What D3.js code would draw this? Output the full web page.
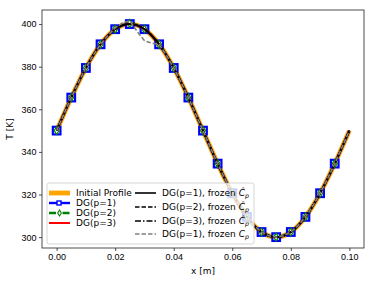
<!DOCTYPE html>
<html>
<head>
<meta charset="utf-8">
<script src="https://cdn.jsdelivr.net/npm/d3@7.9.0/dist/d3.min.js"></script>
<style>
  body { margin: 0; background: #fff; }
  svg { display: block; font-family: "DejaVu Sans", sans-serif; }
  .tick text { font-size: 9px; fill: #000; }
</style>
</head>
<body>
<svg id="chart" width="374" height="283"></svg>
<script>
// fine grid for the smooth profiles
const xFine = [0, 0.0025, 0.005, 0.0075, 0.01, 0.0125, 0.015, 0.0175, 0.02, 0.0225,
  0.025, 0.0275, 0.03, 0.0325, 0.035, 0.0375, 0.04, 0.0425, 0.045, 0.0475,
  0.05, 0.0525, 0.055, 0.0575, 0.06, 0.0625, 0.065, 0.0675, 0.07, 0.0725,
  0.075, 0.0775, 0.08, 0.0825, 0.085, 0.0875, 0.09, 0.0925, 0.095, 0.0975, 0.1];
const tInitial = [350, 357.8, 365.5, 372.7, 379.4, 385.4, 390.5, 394.6, 397.6, 399.4,
  400, 399.4, 397.6, 394.6, 390.5, 385.4, 379.4, 372.7, 365.5, 357.8,
  350, 342.2, 334.5, 327.3, 320.6, 314.6, 309.5, 305.4, 302.4, 300.6,
  300, 300.6, 302.4, 305.4, 309.5, 314.6, 320.6, 327.3, 334.5, 342.2, 350];
const tDG3 = tInitial.slice();
const tFrozenP1 = tInitial.slice();
const tFrozenP2 = tInitial.slice();
const tFrozenP3 = tInitial.slice();
// frozen C_p (p=1) run, kinked near the peak
const tFrozenCp = [350, 357.8, 365.5, 372.7, 379.4, 385.4, 390.5, 394.6, 398.2, 400.6,
  401.6, 396.5, 392.2, 391.0, 390.5, 385.4, 379.4, 372.7, 365.5, 357.8,
  350, 342.2, 334.5, 327.3, 320.6, 314.6, 309.5, 305.4, 302.4, 300.6,
  300, 300.6, 302.4, 305.4, 309.5, 314.6, 320.6, 327.3, 334.5, 342.2, 350];

// node values with markers
const xNodes = [0, 0.005, 0.01, 0.015, 0.02, 0.025, 0.03, 0.035, 0.04, 0.045,
  0.05, 0.055, 0.06, 0.065, 0.07, 0.075, 0.08, 0.085, 0.09, 0.095, 0.1];
const tDG1 = [350, 365.5, 379.4, 390.5, 397.6, 400, 397.6, 390.5, 379.4, 365.5,
  350, 334.5, 320.6, 309.5, 302.4, 300, 302.4, 309.5, 320.6, 334.5, 350];
const tDG2 = [350, 365.5, 379.4, 390.5, 397.6, 400.3, 397.6, 390.5, 379.4, 365.5,
  350, 334.5, 320.6, 309.5, 302.4, 300, 302.4, 309.5, 320.6, 334.5, 350];

const xTicks = [0, 0.02, 0.04, 0.06, 0.08, 0.1];
const yTicks = [300, 320, 340, 360, 380, 400];

const svg = d3.select('#chart');
const mLeft = 42, mRight = 364, mTop = 10, mBottom = 248;

const x = d3.scaleLinear().domain([-0.005, 0.105]).range([mLeft, mRight]);
const y = d3.scaleLinear().domain([294.9, 406.6]).range([mBottom, mTop]);

const line = (xs, ys, curve) => d3.line()
  .x((d, i) => x(xs[i])).y(d => y(d))
  .curve(curve || d3.curveCatmullRom)(ys);

const plot = svg.append('g');

// initial profile
plot.append('path').attr('d', line(xFine, tInitial))
  .attr('fill', 'none').attr('stroke', 'orange').attr('stroke-width', 4.8);
// DG p=1
plot.append('path').attr('d', line(xNodes, tDG1))
  .attr('fill', 'none').attr('stroke', 'blue').attr('stroke-width', 2.4);
plot.selectAll('.sq').data(tDG1.slice(0, 20)).join('rect')
  .attr('x', (d, i) => x(xNodes[i]) - 3.8).attr('y', d => y(d) - 3.8)
  .attr('width', 7.6).attr('height', 7.6)
  .attr('fill', '#fff').attr('stroke', 'blue').attr('stroke-width', 2.2);
// DG p=2
plot.append('path').attr('d', line(xNodes, tDG2))
  .attr('fill', 'none').attr('stroke', 'green').attr('stroke-width', 2.4)
  .attr('stroke-dasharray', '7,2.5,1.5,2.5');
plot.selectAll('.dm').data(tDG2.slice(0, 20)).join('path')
  .attr('d', (d, i) => {
    const cx = x(xNodes[i]), cy = y(d);
    return `M${cx},${cy - 4}L${cx + 2.4},${cy}L${cx},${cy + 4}L${cx - 2.4},${cy}Z`;
  })
  .attr('fill', '#fff').attr('stroke', 'green').attr('stroke-width', 1.2);
// DG p=3
plot.append('path').attr('d', line(xFine, tDG3))
  .attr('fill', 'none').attr('stroke', 'red').attr('stroke-width', 2);
// frozen runs
plot.append('path').attr('d', line(xFine, tFrozenP1))
  .attr('fill', 'none').attr('stroke', 'black').attr('stroke-width', 1.6);
plot.append('path').attr('d', line(xFine, tFrozenP2))
  .attr('fill', 'none').attr('stroke', 'black').attr('stroke-width', 1.6)
  .attr('stroke-dasharray', '4.5,2');
plot.append('path').attr('d', line(xFine, tFrozenP3))
  .attr('fill', 'none').attr('stroke', 'black').attr('stroke-width', 1.6)
  .attr('stroke-dasharray', '6,2,1.5,2');
plot.append('path').attr('d', line(xFine, tFrozenCp, d3.curveLinear))
  .attr('fill', 'none').attr('stroke', 'gray').attr('stroke-width', 1.6)
  .attr('stroke-dasharray', '4.5,2');

// axes
svg.append('g').attr('transform', `translate(0,${mBottom})`)
  .call(d3.axisBottom(x).tickValues(xTicks).tickFormat(d3.format('.2f')).tickSizeOuter(0).tickSize(3).tickPadding(3))
  .call(g => g.select('.domain').remove())
  .call(g => g.selectAll('.tick line').attr('stroke-width', 0.7));
svg.append('g').attr('transform', `translate(${mLeft},0)`)
  .call(d3.axisLeft(y).tickValues(yTicks).tickSizeOuter(0).tickSize(3).tickPadding(2.5))
  .call(g => g.select('.domain').remove())
  .call(g => g.selectAll('.tick line').attr('stroke-width', 0.7));
svg.append('rect').attr('x', mLeft).attr('y', mTop)
  .attr('width', mRight - mLeft).attr('height', mBottom - mTop)
  .attr('fill', 'none').attr('stroke', '#222').attr('stroke-width', 0.8);

svg.append('text').attr('x', (mLeft + mRight) / 2).attr('y', 274)
  .attr('text-anchor', 'middle').attr('font-size', 9).text('x [m]');
svg.append('text').attr('transform', `translate(13,${(mTop + mBottom) / 2}) rotate(-90)`)
  .attr('text-anchor', 'middle').attr('font-size', 9).text('T [K]');

// legend
const lg = svg.append('g');
lg.append('rect').attr('x', 47).attr('y', 183).attr('width', 207).attr('height', 61)
  .attr('rx', 2).attr('fill', 'rgba(255,255,255,0.8)').attr('stroke', '#ccc').attr('stroke-width', 0.8);

const col1 = [
  { label: 'Initial Profile', color: 'orange', w: 4.8, dash: null, mk: null },
  { label: 'DG(p=1)', color: 'blue', w: 2.4, dash: null, mk: 'sq' },
  { label: 'DG(p=2)', color: 'green', w: 2.4, dash: '7,2.5,1.5,2.5', mk: 'dm' },
  { label: 'DG(p=3)', color: 'red', w: 2, dash: null, mk: null }
];
const col1Y = [193, 203, 213, 223];
col1.forEach((d, i) => {
  const yy = col1Y[i];
  lg.append('line').attr('x1', 49).attr('x2', 70).attr('y1', yy).attr('y2', yy)
    .attr('stroke', d.color).attr('stroke-width', d.w).attr('stroke-dasharray', d.dash);
  if (d.mk === 'sq') {
    lg.append('rect').attr('x', 57).attr('y', yy - 2).attr('width', 4).attr('height', 4)
      .attr('fill', '#fff').attr('stroke', d.color).attr('stroke-width', 1.4);
  } else if (d.mk === 'dm') {
    lg.append('path').attr('d', `M59.5,${yy - 3}L61.3,${yy}L59.5,${yy + 3}L57.7,${yy}Z`)
      .attr('fill', '#fff').attr('stroke', d.color).attr('stroke-width', 1.1);
  }
  lg.append('text').attr('x', 76).attr('y', yy + 3.2).attr('font-size', 9).text(d.label);
});

const col2 = [
  { head: 'DG(p=1), frozen ', color: 'black', dash: null, hat: true },
  { head: 'DG(p=2), frozen ', color: 'black', dash: '4.5,2', hat: true },
  { head: 'DG(p=3), frozen ', color: 'black', dash: '6,2,1.5,2', hat: true },
  { head: 'DG(p=1), frozen ', color: 'gray', dash: '4.5,2', hat: false }
];
const col2Y = [193, 207, 221, 234];
col2.forEach((d, i) => {
  const yy = col2Y[i];
  lg.append('line').attr('x1', 135).attr('x2', 156).attr('y1', yy).attr('y2', yy)
    .attr('stroke', d.color).attr('stroke-width', 1.6).attr('stroke-dasharray', d.dash);
  const t = lg.append('text').attr('x', 162).attr('y', yy + 3.2).attr('font-size', 9);
  t.append('tspan').text(d.head);
  t.append('tspan').attr('font-style', 'italic').text(d.hat ? '\u0108' : 'C');
  t.append('tspan').attr('font-style', 'italic').attr('font-size', 6.3).attr('dy', 2).text('p');
});
</script>
</body>
</html>
